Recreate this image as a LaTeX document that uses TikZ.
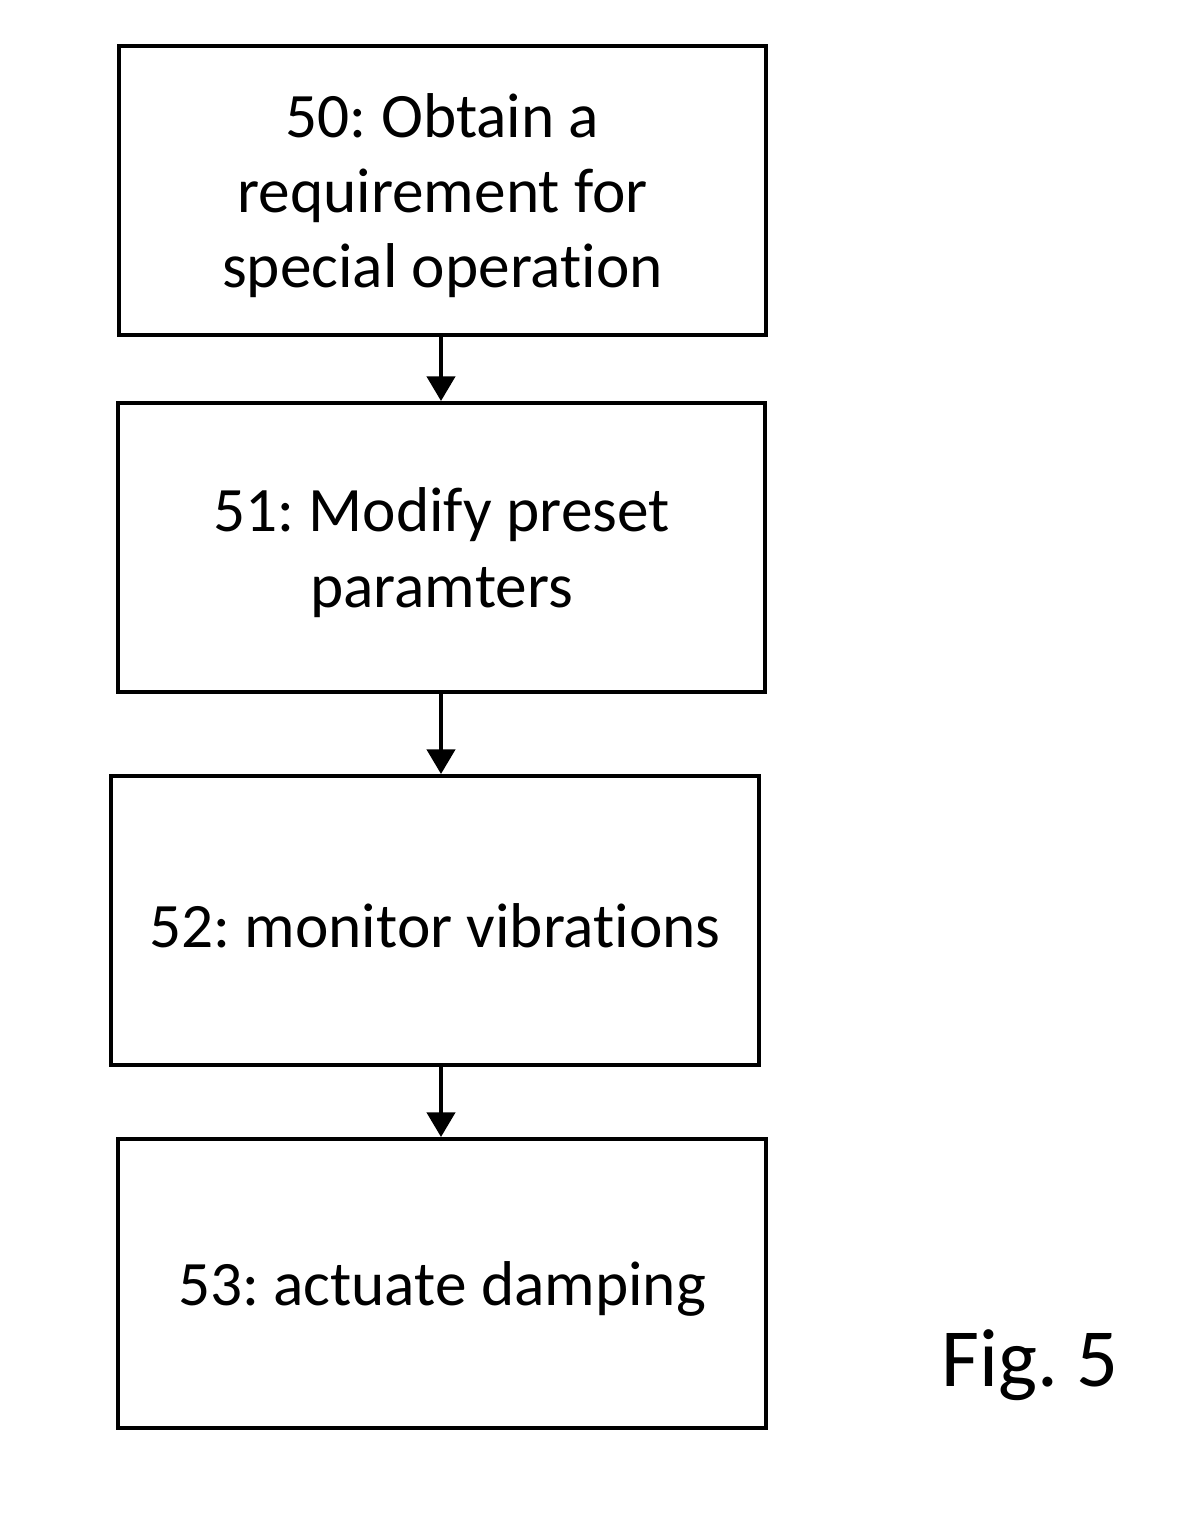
\documentclass[tikz,border=0pt]{standalone}
\usepackage{fontspec}
\setmainfont[Ligatures=NoCommon]{Carlito}
\frenchspacing
\usetikzlibrary{arrows.meta}

\begin{document}
\begin{tikzpicture}[
    x=0.01cm, y=-0.01cm,
    stepbox/.style={draw, line width=1.1pt, minimum width=6.47cm, minimum height=2.89cm, inner sep=0pt},
    steptext/.style={align=center, inner sep=0pt, yshift=-0.05cm, font=\fontsize{18}{21.4}\selectfont},
    flow/.style={line width=1.1pt, -{Triangle[length=7pt, width=8pt]}},
]
\useasboundingbox (0, 0) rectangle (1184, 1517);

% Steps
\node[stepbox, label={[steptext]center:50: Obtain a\\requirement for\\special operation}]
    (obtain) at (442.5, 190.5) {};
\node[stepbox, label={[steptext]center:51: Modify preset\\paramters}]
    (modify) at (441.5, 547.5) {};
\node[stepbox, label={[steptext]center:52: monitor vibrations}]
    (monitor) at (435, 920.5) {};
\node[stepbox, label={[steptext]center:53: actuate damping}]
    (actuate) at (442, 1283.5) {};

% Arrows
\draw[flow] (obtain.south -| 441, 0) -- (modify.north -| 441, 0);
\draw[flow] (modify.south -| 441, 0) -- (monitor.north -| 441, 0);
\draw[flow] (monitor.south -| 441, 0) -- (actuate.north -| 441, 0);

% Caption
\node[font=\fontsize{23.5}{28}\selectfont] (fig) at (1030, 1365) {Fig. 5};

\end{tikzpicture}
\end{document}
